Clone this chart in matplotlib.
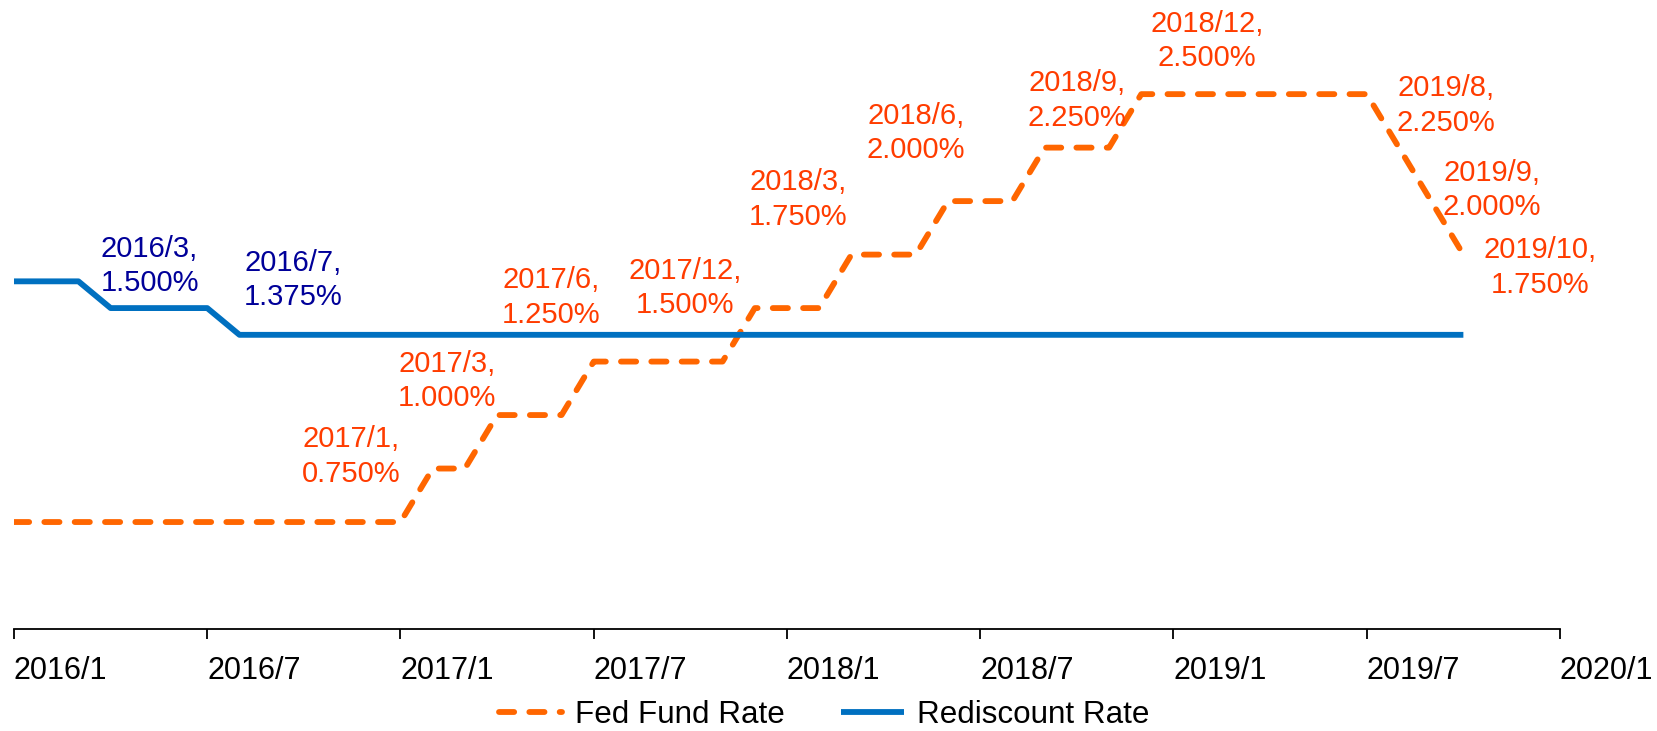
import matplotlib
matplotlib.use("Agg")
import matplotlib.pyplot as plt

plt.rcParams['font.family'] = ['Liberation Sans', 'DejaVu Sans']

# ---- data ----
tick_labels = ['2016/1', '2016/7', '2017/1', '2017/7', '2018/1',
               '2018/7', '2019/1', '2019/7', '2020/1']

months = [f'{y}/{m}' for y in (2016, 2017, 2018, 2019) for m in range(1, 13)][:46]

fed_fund = ([0.50] * 13 + [0.75] * 2 + [1.00] * 3 + [1.25] * 5 + [1.50] * 3 +
            [1.75] * 3 + [2.00] * 3 + [2.25] * 3 + [2.50] * 8 +
            [2.25, 2.00, 1.75])

rediscount = [1.625] * 3 + [1.500] * 4 + [1.375] * 39

# annotations: (index into months, series value, text)
fed_labels = [
    (13, 0.75, '2017/1,\n0.750%'),
    (15, 1.00, '2017/3,\n1.000%'),
    (18, 1.25, '2017/6,\n1.250%'),
    (23, 1.50, '2017/12,\n1.500%'),
    (26, 1.75, '2018/3,\n1.750%'),
    (29, 2.00, '2018/6,\n2.000%'),
    (32, 2.25, '2018/9,\n2.250%'),
    (35, 2.50, '2018/12,\n2.500%'),
    (43, 2.25, '2019/8,\n2.250%'),
    (44, 2.00, '2019/9,\n2.000%'),
    (45, 1.75, '2019/10,\n1.750%'),
]
redis_labels = [
    (3, 1.500, '2016/3,\n1.500%'),
    (7, 1.375, '2016/7,\n1.375%'),
]

# label offsets in pixels (layout only)
fed_offsets = [(-82, 12), (-50, 34), (-43, 64), (-70, 20), (-53, 55), (-32, 68),
               (32, 47), (66, 53), (47, 42), (61, 11), (77, -13)]
redis_offsets = [(39, 42), (54, 55)]

ORANGE = '#FF6600'
ORANGE_TXT = '#FF3C00'
BLUE = '#0070C0'
BLUE_TXT = '#000099'

fig = plt.figure(figsize=(16.58, 7.31), dpi=100)
ax = fig.add_axes([14 / 1658, 102 / 731, 1546 / 1658, 629 / 731])

x = list(range(len(months)))
ax.plot(x, fed_fund, color=ORANGE, lw=4.2, linestyle=(0, (2.6, 2.6)),
        dash_capstyle='round', solid_joinstyle='round', label='Fed Fund Rate')
ax.plot(x, rediscount, color=BLUE, lw=4.2, solid_capstyle='butt',
        label='Rediscount Rate')

for (i, v, t), (dx, dy) in zip(fed_labels, fed_offsets):
    ax.annotate(t, xy=(i, v), xytext=(dx, dy), textcoords='offset pixels',
                ha='center', va='center', color=ORANGE_TXT, fontsize=21,
                multialignment='center', linespacing=1.3)
for (i, v, t), (dx, dy) in zip(redis_labels, redis_offsets):
    ax.annotate(t, xy=(i, v), xytext=(dx, dy), textcoords='offset pixels',
                ha='center', va='center', color=BLUE_TXT, fontsize=21,
                multialignment='center', linespacing=1.3)

ax.set_xlim(0, 48)
ax.set_ylim(0, 2.94)
ax.set_xticks(range(0, 49, 6))
ax.set_xticklabels(tick_labels, fontsize=22, ha='left')
ax.set_yticks([])
for s in ('top', 'right', 'left'):
    ax.spines[s].set_visible(False)
ax.spines['bottom'].set_linewidth(1.3)
ax.tick_params(axis='x', direction='out', length=7.5, width=1.3, pad=12)

fig.legend(loc='center', bbox_to_anchor=(0.497, 1 - 715 / 731), ncol=2, frameon=False,
           fontsize=22.6, handlelength=2.0, handletextpad=0.42, columnspacing=1.8)

fig.savefig('out.png', dpi=100)
